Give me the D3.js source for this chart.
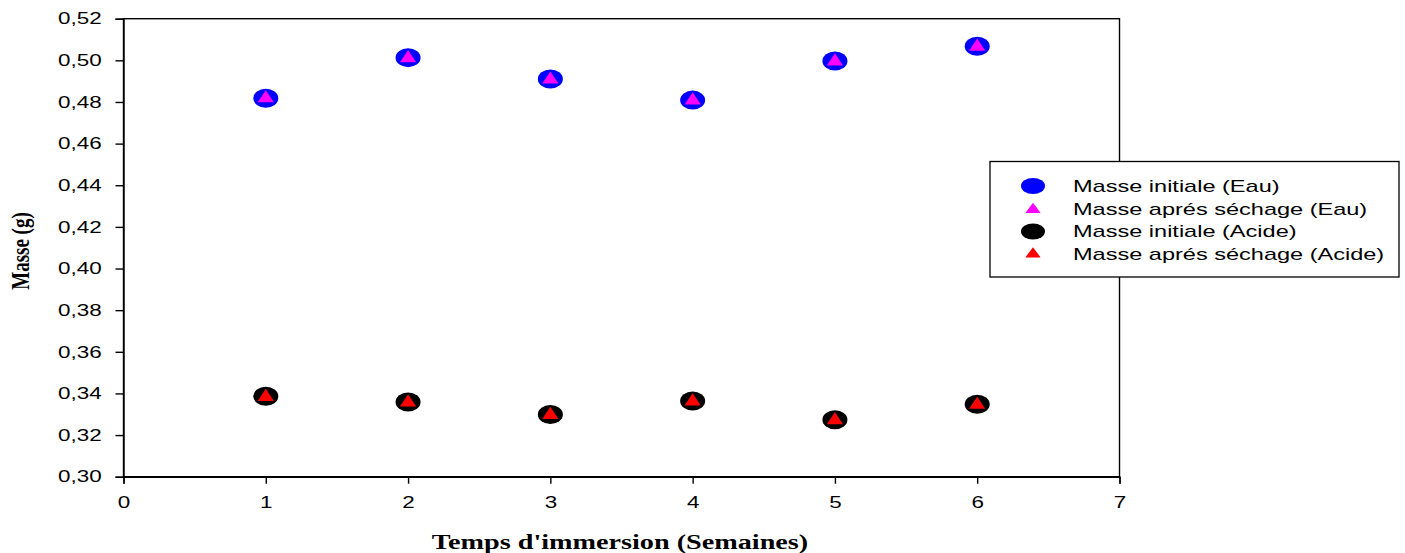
<!DOCTYPE html>
<html><head><meta charset="utf-8">
<script src="https://cdn.jsdelivr.net/npm/d3@7"></script>
<style>body{margin:0;background:#fff}</style>
</head><body>
<svg id="c" width="1405" height="553"></svg>
<script>
const weeks = [1, 2, 3, 4, 5, 6];
const initialEau = [0.4818, 0.5013, 0.4910, 0.4809, 0.4997, 0.5068];
const apresEau   = [0.4820, 0.5013, 0.4910, 0.4810, 0.4997, 0.5068];
const initialAcide = [0.3386, 0.3359, 0.3299, 0.3364, 0.3274, 0.3348];
const apresAcide   = [0.3386, 0.3359, 0.3299, 0.3364, 0.3274, 0.3348];
const xTicks = [0, 1, 2, 3, 4, 5, 6, 7];
const yTicks = [0.30, 0.32, 0.34, 0.36, 0.38, 0.40, 0.42, 0.44, 0.46, 0.48, 0.50, 0.52];
const legendLabels = ["Masse initiale (Eau)", "Masse aprés séchage (Eau)", "Masse initiale (Acide)", "Masse aprés séchage (Acide)"];

const SX = 1.36; // horizontal stretch of the original picture's text
const svg = d3.select("#c");
const L = 123.5, R = 1119.5, T = 18.7, B = 476.7;
const x = d3.scaleLinear().domain([0, 7]).range([L, R]);
const y = d3.scaleLinear().domain([0.30, 0.52]).range([B, T]);
const fmt = d => d3.format(".2f")(d).replace(".", ",");
const SANS = "Liberation Sans, Arial, sans-serif";

// frame
svg.append("rect").attr("x", L).attr("y", T).attr("width", R - L).attr("height", B - T)
  .attr("fill", "none").attr("stroke", "#000").attr("stroke-width", 1.4);

const yAxis = svg.append("g").attr("transform", `translate(${L},0)`)
  .call(d3.axisLeft(y).tickValues(yTicks).tickFormat(fmt).tickSizeOuter(0).tickSize(8));
const xAxis = svg.append("g").attr("transform", `translate(0,${B})`)
  .call(d3.axisBottom(x).tickValues(xTicks).tickFormat(d3.format("d")).tickSizeOuter(0).tickSize(7));
[yAxis, xAxis].forEach(a => {
  a.select(".domain").attr("stroke", "#000").attr("stroke-width", 1.4);
  a.selectAll(".tick line").attr("stroke", "#000").attr("stroke-width", 1.4);
  a.selectAll("text").attr("font-family", SANS).attr("font-size", 16.5).attr("fill", "#000");
});
yAxis.selectAll(".tick text").attr("x", -21.8 / SX).attr("transform", `scale(${SX},1)`);
xAxis.selectAll(".tick text").attr("dy", null).attr("y", 508.5 - B).attr("transform", `scale(${SX},1)`);

const tri = d3.symbol().type(d3.symbolTriangle).size(85);
function ellipses(vals, color) {
  svg.append("g").selectAll("ellipse").data(vals).join("ellipse")
    .attr("cx", (d, i) => x(weeks[i])).attr("cy", d => y(d))
    .attr("rx", 12.5).attr("ry", 9.5).attr("fill", color);
}
function triangles(vals, color) {
  svg.append("g").selectAll("path").data(vals).join("path")
    .attr("d", tri).attr("transform", (d, i) => `translate(${x(weeks[i])},${y(d) + 0.5}) scale(1.15,1)`)
    .attr("fill", color);
}
ellipses(initialEau, "#0000ff");
triangles(apresEau, "#ff00ff");
ellipses(initialAcide, "#000000");
triangles(apresAcide, "#ff0000");

// axis titles
svg.append("text").attr("transform", `translate(620,549) scale(1.41,1)`).attr("text-anchor", "middle")
  .attr("font-family", "Liberation Serif, Times New Roman, serif").attr("font-weight", "bold").attr("font-size", 20)
  .text("Temps d'immersion (Semaines)");
svg.append("text").attr("transform", "translate(29,251) scale(1.3,1) rotate(-90)").attr("text-anchor", "middle")
  .attr("font-family", "Liberation Serif, Times New Roman, serif").attr("font-weight", "bold").attr("font-size", 19)
  .text("Masse (g)");

// legend
const lg = svg.append("g");
lg.append("rect").attr("x", 990).attr("y", 161.5).attr("width", 409).attr("height", 115.5)
  .attr("fill", "#fff").attr("stroke", "#000").attr("stroke-width", 1.3);
const rows = [186, 209.5, 231.5, 254];
const types = ["e", "t", "e", "t"];
const cols = ["#0000ff", "#ff00ff", "#000000", "#ff0000"];
legendLabels.forEach((lab, i) => {
  if (types[i] === "e") {
    lg.append("ellipse").attr("cx", 1033).attr("cy", rows[i]).attr("rx", 12).attr("ry", 8).attr("fill", cols[i]);
  } else {
    lg.append("path").attr("d", d3.symbol().type(d3.symbolTriangle).size(60))
      .attr("transform", `translate(1033,${rows[i]}) scale(1.3,1)`).attr("fill", cols[i]);
  }
  lg.append("text").attr("transform", `translate(1073,${rows[i]}) scale(1.385,1)`).attr("dy", "0.35em")
    .attr("font-family", SANS).attr("font-size", 17).text(lab);
});
</script>
</body></html>
